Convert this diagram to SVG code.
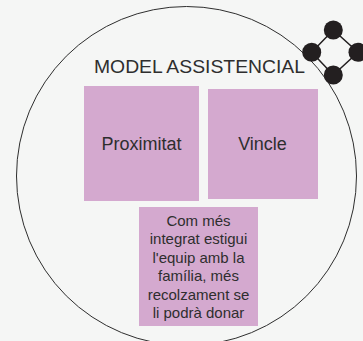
<svg xmlns="http://www.w3.org/2000/svg" width="363" height="341" viewBox="0 0 363 341">
<style>
.box{fill:#d4a9cf}
.t{font-family:"Liberation Sans",Arial,sans-serif;fill:#2e2e2e;text-anchor:middle}
.dot{fill:#231f20}
.ln{stroke:#231f20;stroke-width:1.5;fill:none}
</style>
<rect width="363" height="341" fill="#f5f6f5"/>
<g id="circle"><ellipse cx="186.5" cy="176" rx="170" ry="169.5" fill="none" stroke="#2e2e2e" stroke-width="1"/></g>
<g id="title"><text class="t" x="199.5" y="73" font-size="18" textLength="211" lengthAdjust="spacingAndGlyphs">MODEL ASSISTENCIAL</text></g>
<g id="connectors">
<path class="ln" d="M333.3,30 L311.7,52.3 L333.3,75 L358,52.3 Z"/>
</g>
<g id="network">
<circle class="dot" cx="333.3" cy="30" r="9.5"/>
<circle class="dot" cx="311.7" cy="52.3" r="9.5"/>
<circle class="dot" cx="358" cy="52.3" r="9.5"/>
<circle class="dot" cx="333.3" cy="75" r="9.5"/>
</g>
<g id="proximitat"><rect class="box" x="84" y="86" width="115" height="115"/><text class="t" x="141.5" y="150" font-size="18">Proximitat</text></g>
<g id="vincle"><rect class="box" x="208" y="89" width="110" height="110"/><text class="t" x="262.5" y="150" font-size="18">Vincle</text></g>
<g id="nota"><rect class="box" x="139" y="207" width="119" height="119"/>
<text class="t" font-size="15"><tspan x="198.5" y="226">Com més</tspan><tspan x="198.5" y="244.4">integrat estigui</tspan><tspan x="198.5" y="262.8">l'equip amb la</tspan><tspan x="198.5" y="281.2">família, més</tspan><tspan x="198.5" y="299.6">recolzament se</tspan><tspan x="198.5" y="318">li podrà donar</tspan></text></g>
</svg>
